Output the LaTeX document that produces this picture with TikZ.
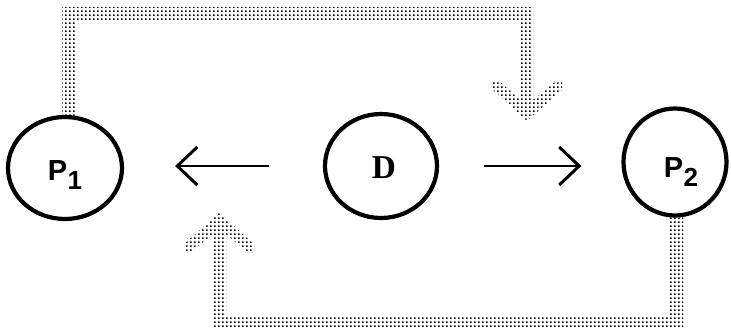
\documentclass[tikz,border=0pt]{standalone}
\usepackage{fontspec}
\setmainfont{Liberation Serif}
\setsansfont{Liberation Sans}
\usetikzlibrary{shapes.geometric,arrows.meta,patterns.meta,calc}
\tikzdeclarepattern{
  name=pdots, type=uncolored,
  bottom left={(0pt,0pt)}, top right={(4.33pt,4.33pt)},
  tile size={(4.33pt,4.33pt)},
  code={\fill (1.2pt,1.2pt) rectangle (3.0pt,3.0pt);}
}
\newcommand{\plbl}[1]{{\sffamily\bfseries P\kern0.1pt\raisebox{-3pt}{\scalebox{0.9}{#1}}}}
\begin{document}
\begin{tikzpicture}[x=1pt,y=-1pt,
  proc/.style={ellipse, draw, line width=4.2pt, inner sep=0pt},
  lbl/.style={inner sep=0pt, scale=2.9},
  flow/.style={line width=1.6pt, -{Straight Barb[length=20pt,width=38pt,line width=3pt]}},
  dotconn/.style={pattern=pdots, pattern color=black}]
\useasboundingbox (0,0) rectangle (731,332);

\node[proc, minimum width=114pt, minimum height=102pt] (P1) at (65,168) {};
\node[proc, minimum width=112pt, minimum height=104pt] (D) at (381,166) {};
\node[proc, minimum width=103pt, minimum height=107pt] (P2) at (675,162) {};

\node[lbl] (P1t) at ($(P1.center)+(0,7)$) {\plbl{1}};
\node[lbl] (P2t) at ($(P2.center)+(6,10)$) {\plbl{2}};
\node[lbl, scale=1.15] (Dt) at ($(D.center)+(3,2)$) {\bfseries D};

% solid arrows
\draw[flow, shorten <=54pt, shorten >=51pt] (D.west) -- (D.west -| P1.east);
\draw[flow, shorten <=45pt, shorten >=40pt] (D.east) -- (D.east -| P2.west);

% dotted connectors
\coordinate (t1) at (527,121);
\coordinate (t2) at (219,213);
\fill[dotconn] ($(P1.north)+(-3,1)$) |- ($(t1)+(6,-114)$) -- ($(t1)+(6,-21)$)
  -- ($(t1)+(28,-39)$) -- ($(t1)+(35,-39)$) -- ($(t1)+(35,-31)$) -- (t1)
  -- ($(t1)+(-34,-31)$) -- ($(t1)+(-34,-39)$) -- ($(t1)+(-27,-39)$)
  -- ($(t1)+(-6,-21)$) -- ($(t1)+(-6,-101)$) -| ($(P1.north)+(10,1)$) -- cycle;
\fill[dotconn] ($(P2.south)+(8,-1)$) |- ($(t2)+(-6,115)$) -- ($(t2)+(-6,21)$)
  -- ($(t2)+(-28,39)$) -- ($(t2)+(-35,39)$) -- ($(t2)+(-35,31)$) -- (t2)
  -- ($(t2)+(35,31)$) -- ($(t2)+(35,39)$) -- ($(t2)+(28,39)$)
  -- ($(t2)+(7,21)$) -- ($(t2)+(7,102)$) -| ($(P2.south)+(-5,-1)$) -- cycle;
\end{tikzpicture}
\end{document}
